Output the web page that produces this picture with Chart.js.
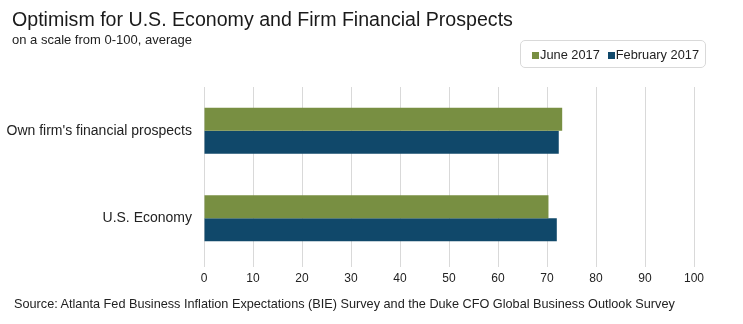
<!DOCTYPE html>
<html>
<head>
<meta charset="utf-8">
<script src="https://cdn.jsdelivr.net/npm/chart.js@4"></script>
<style>
  body { margin: 0; background: #fff; font-family: "Liberation Sans", Arial, sans-serif; color: #222; }
  #wrap { position: relative; width: 743px; height: 324px; }
  #chart { position: absolute; left: 0; top: 0; }
  .title { position: absolute; left: 12px; top: 8px; font-size: 19.6px; color: #1a1a1a; white-space: nowrap; }
  .subtitle { position: absolute; left: 12px; top: 32px; font-size: 13px; white-space: nowrap; }
  .source { position: absolute; left: 14px; top: 297px; font-size: 12.7px; white-space: nowrap; }
  #legend { position: absolute; left: 520px; top: 40px; width: 186px; height: 28px; border: 1px solid #d9d9d9;
            border-radius: 5px; box-sizing: border-box; display: flex; align-items: center;
            padding-left: 11px; font-size: 12.8px; gap: 8px; }
  #legend span.sw { display: inline-block; width: 7px; height: 7px; margin-right: 1px; }
</style>
</head>
<body>
<div id="wrap">
  <canvas id="chart" width="743" height="324"></canvas>
  <div class="title">Optimism for U.S. Economy and Firm Financial Prospects</div>
  <div class="subtitle">on a scale from 0-100, average</div>
  <div id="legend"></div>
  <div class="source">Source: Atlanta Fed Business Inflation Expectations (BIE) Survey and the Duke CFO Global Business Outlook Survey</div>
</div>
<script>
const categories = ["Own firm's financial prospects", 'U.S. Economy'];
const june2017 = [73.1, 70.3];
const february2017 = [72.4, 72.0];
const xTicks = [0, 10, 20, 30, 40, 50, 60, 70, 80, 90, 100];

const datasets = [
  { label: 'June 2017', data: june2017, backgroundColor: '#788f42' },
  { label: 'February 2017', data: february2017, backgroundColor: '#10486a' },
];

// legend box built from the dataset labels/colours
const legend = document.getElementById('legend');
datasets.forEach(ds => {
  const item = document.createElement('div');
  item.innerHTML = '<span class="sw" style="background:' + ds.backgroundColor + '"></span>' + ds.label;
  legend.appendChild(item);
});

const font = { family: '"Liberation Sans", Arial, sans-serif' };

new Chart(document.getElementById('chart'), {
  type: 'bar',
  data: {
    labels: categories,
    datasets: datasets.map(ds => ({
      ...ds,
      barPercentage: 1,
      categoryPercentage: 0.526,
    })),
  },
  options: {
    indexAxis: 'y',
    responsive: false,
    animation: false,
    layout: { padding: { top: 87, right: 49, bottom: 38, left: 0 } },
    plugins: { legend: { display: false }, tooltip: { enabled: false } },
    scales: {
      x: {
        min: 0,
        max: 100,
        afterBuildTicks: scale => { scale.ticks = xTicks.map(v => ({ value: v })); },
        afterFit: scale => { scale.height = 24; },
        grid: { color: '#d9d9d9', tickLength: 5 },
        border: { display: false },
        ticks: { color: '#222', padding: 4, font: { ...font, size: 12 } },
      },
      y: {
        afterFit: scale => { scale.width = 204; },
        grid: { display: false, drawTicks: false },
        border: { display: false },
        ticks: { color: '#222', padding: 12, font: { ...font, size: 14 } },
      },
    },
  },
});
</script>
</body>
</html>
